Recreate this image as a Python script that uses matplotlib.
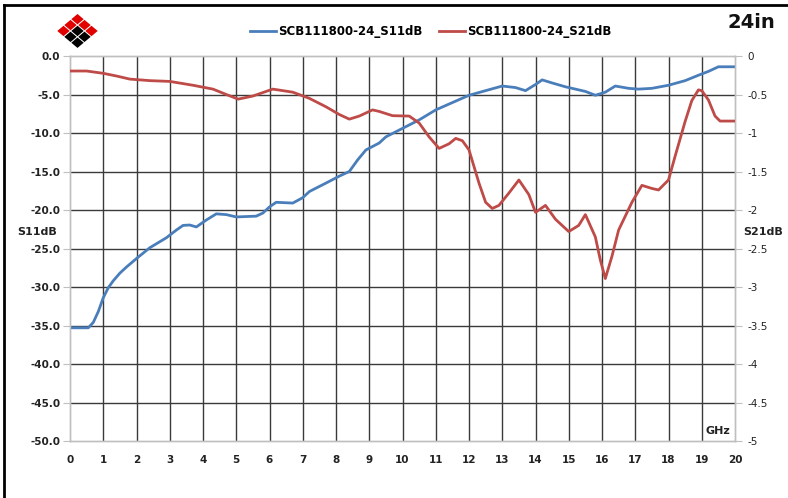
import matplotlib.pyplot as plt
from matplotlib.patches import Polygon
from matplotlib.lines import Line2D

# frequency points (GHz) and values
s11_ghz = [0.0, 0.55, 0.7, 0.85, 1.0, 1.15, 1.3, 1.5, 1.7, 2.0, 2.4, 2.9, 3.2,
           3.4, 3.6, 3.8, 4.1, 4.4, 4.7, 5.0, 5.6, 5.8, 6.0, 6.2, 6.7, 7.0,
           7.2, 7.7, 8.1, 8.4, 8.65, 8.9, 9.3, 9.5, 10.0, 10.5, 11.0, 12.0,
           12.5, 13.0, 13.4, 13.7, 14.0, 14.2, 14.5, 14.9, 15.5, 15.8, 16.1,
           16.4, 16.8, 17.1, 17.5, 18.0, 18.5, 18.9, 19.2, 19.5, 20.0]
s11_db = [-35.3, -35.3, -34.6, -33.2, -31.4, -30.1, -29.2, -28.2, -27.4,
          -26.3, -24.9, -23.6, -22.6, -22.0, -21.95, -22.2, -21.3, -20.5,
          -20.6, -20.9, -20.8, -20.4, -19.6, -19.0, -19.1, -18.4, -17.6,
          -16.5, -15.6, -15.0, -13.5, -12.2, -11.3, -10.5, -9.4, -8.3, -7.0,
          -5.1, -4.5, -3.9, -4.1, -4.5, -3.7, -3.1, -3.5, -4.0, -4.6, -5.1,
          -4.7, -3.9, -4.2, -4.3, -4.2, -3.8, -3.2, -2.5, -2.0, -1.4, -1.4]

s21_ghz = [0.0, 0.5, 1.0, 1.4, 1.8, 2.4, 3.0, 3.7, 4.3, 4.7, 5.06, 5.5, 6.1,
           6.7, 7.2, 7.7, 8.1, 8.4, 8.7, 9.1, 9.3, 9.7, 10.2, 10.5, 10.8, 11.1,
           11.4, 11.6, 11.8, 12.0, 12.3, 12.5, 12.7, 12.9, 13.2, 13.5, 13.8,
           14.0, 14.3, 14.6, 15.0, 15.3, 15.5, 15.8, 15.95, 16.1, 16.3, 16.5,
           16.9, 17.2, 17.5, 17.7, 18.0, 18.2, 18.5, 18.7, 18.9, 19.0, 19.2,
           19.4, 19.55, 20.0]
s21_db = [-0.195, -0.195, -0.225, -0.26, -0.30, -0.32, -0.33, -0.38, -0.43,
          -0.50, -0.56, -0.52, -0.43, -0.47, -0.55, -0.66, -0.76, -0.82, -0.78,
          -0.70, -0.72, -0.775, -0.78, -0.87, -1.05, -1.2, -1.14, -1.07, -1.10,
          -1.22, -1.65, -1.90, -1.98, -1.94, -1.78, -1.61, -1.80, -2.03, -1.94,
          -2.12, -2.28, -2.20, -2.06, -2.35, -2.65, -2.89, -2.60, -2.26, -1.90,
          -1.68, -1.72, -1.74, -1.61, -1.30, -0.85, -0.58, -0.44, -0.45, -0.57,
          -0.78, -0.845, -0.845]

x_ticks = list(range(0, 21))
left_ticks = [0, -5, -10, -15, -20, -25, -30, -35, -40, -45, -50]
right_ticks = [0, -0.5, -1, -1.5, -2, -2.5, -3, -3.5, -4, -4.5, -5]

BLUE = '#4a7ebb'
RED = '#be4b48'
GRAY = '#bfbfbf'
GRID = '#3a3a3a'


def main():
    W, H = 788, 498
    fig = plt.figure(figsize=(W / 100, H / 100), dpi=100)
    ax = fig.add_axes([70 / W, 1 - 441 / H, (735 - 70) / W, (441 - 56) / H])
    ax2 = ax.twinx()

    ax.set_xlim(0, 20)
    ax.set_ylim(-50, 0)
    ax2.set_ylim(-5, 0)

    # interior grid
    for x in x_ticks[1:-1]:
        ax.axvline(x, color=GRID, lw=1.0, zorder=1)
    for y in left_ticks[1:-1]:
        ax.axhline(y, color=GRID, lw=1.0, zorder=1)

    ax.plot(s11_ghz, s11_db, color=BLUE, lw=2.0, zorder=3,
            solid_joinstyle='round')
    ax2.plot(s21_ghz, s21_db, color=RED, lw=2.0, zorder=3,
             solid_joinstyle='round')

    for a in (ax, ax2):
        for sp in a.spines.values():
            sp.set_color(GRAY)
            sp.set_linewidth(1.0)

    ax.set_xticks(x_ticks)
    ax.set_xticklabels([str(v) for v in x_ticks], fontsize=7.5,
                       fontweight='bold', color='#222222')
    ax.set_yticks(left_ticks)
    ax.set_yticklabels([f'{v:.1f}' for v in left_ticks], fontsize=7.5,
                       fontweight='bold', color='#222222')
    ax2.set_yticks(right_ticks)
    ax2.set_yticklabels([f'{v:g}' for v in right_ticks], fontsize=7.5,
                        color='#222222')
    ax.tick_params(axis='x', length=0, pad=10)
    ax.tick_params(axis='y', length=5, color=GRAY, pad=2)
    ax2.tick_params(axis='y', length=5, color=GRAY, pad=4)

    fig.text(37 / W, 1 - 232 / H, 'S11dB', fontsize=8, fontweight='bold',
             ha='center', va='center', color='#222222')
    fig.text(763 / W, 1 - 232 / H, 'S21dB', fontsize=8, fontweight='bold',
             ha='center', va='center', color='#222222')
    ax.text(19.85, -48.7, 'GHz', fontsize=8, fontweight='bold',
            ha='right', va='center', color='#222222')
    fig.text(775 / W, 1 - 23 / H, '24in', fontsize=14, fontweight='bold',
             ha='right', va='center', color='#111111')

    handles = [Line2D([], [], color=BLUE, lw=2.0),
               Line2D([], [], color=RED, lw=2.0)]
    fig.legend(handles, ['SCB111800-24_S11dB', 'SCB111800-24_S21dB'],
               loc='center', bbox_to_anchor=(431 / W, 1 - 32 / H), ncol=2,
               frameon=False, prop={'size': 8.5, 'weight': 'bold'},
               handlelength=2.2, handletextpad=0.2, columnspacing=1.4)

    # logo: 3x3 grid of diamonds with thin white gaps
    cx, cy = 77.5, 19.2
    step = 7.0
    half = 6.2
    vs = 0.84
    for i in range(3):
        for j in range(3):
            px = cx + (j - i) * step
            py = cy + (i + j) * step * vs
            col = '#e00000' if (i == 0 or j == 0) else '#000000'
            pts = [(px, py - half * vs), (px + half, py),
                   (px, py + half * vs), (px - half, py)]
            pts = [(p[0] / W, 1 - p[1] / H) for p in pts]
            fig.patches.append(Polygon(pts, closed=True, color=col, lw=0,
                                       transform=fig.transFigure))

    # outer frame (top and left)
    fig.add_artist(Line2D([4 / W, 1], [1 - 5 / H, 1 - 5 / H], color='black',
                          lw=2.0, transform=fig.transFigure))
    fig.add_artist(Line2D([4 / W, 4 / W], [0, 1 - 5 / H], color='black',
                          lw=2.0, transform=fig.transFigure))

    fig.savefig('out.png', dpi=100)


if __name__ == '__main__':
    main()
